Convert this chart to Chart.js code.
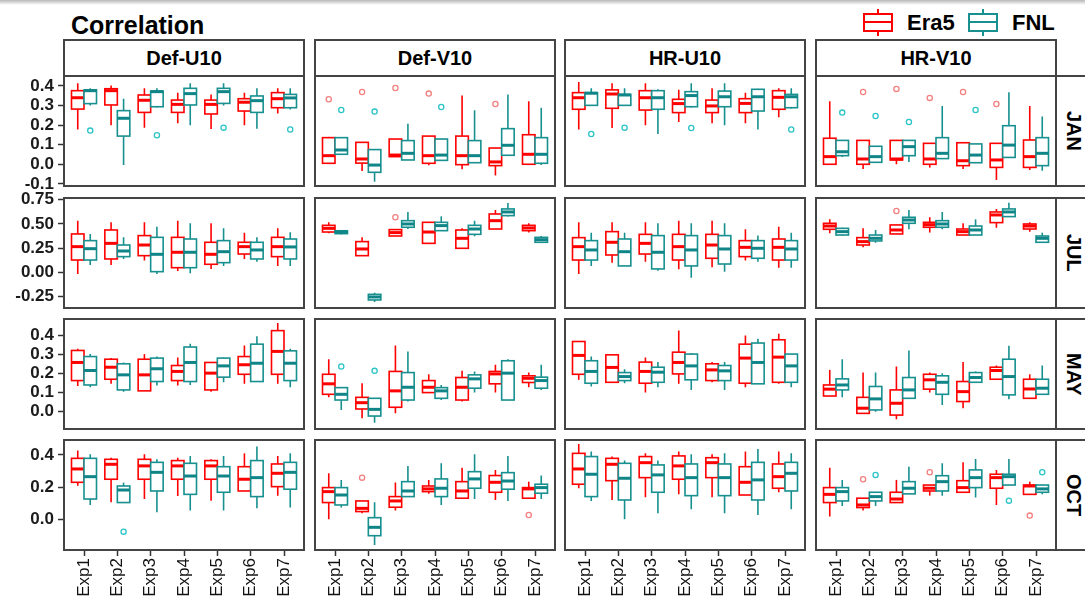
<!DOCTYPE html>
<html>
<head>
<meta charset="utf-8">
<title>Correlation</title>
<script src="https://cdn.jsdelivr.net/npm/chart.js@4.4.1/dist/chart.umd.min.js"></script>
<style>
  html, body { margin: 0; padding: 0; }
  body { width: 1085px; height: 599px; overflow: hidden; position: relative; background: #fff;
         font-family: Arial, "Liberation Sans", sans-serif; }
  .topline { position: absolute; left: 0; top: 0; width: 1085px; height: 5px; background: linear-gradient(#b8b8b8, #fff); }
  .title { position: absolute; left: 71px; top: 10px; font-size: 25px; line-height: 30px; font-weight: bold; color: #000; }
  .strip { position: absolute; box-sizing: border-box; border: 2px solid #444; background: #fff;
           font-weight: bold; font-size: 20px; color: #000; display: flex; align-items: center; justify-content: center; }
  .strip.side { justify-content: flex-start; padding-left: 5px; }
  .strip.side span { writing-mode: vertical-rl; }
  .key { position: absolute; top: 9px; width: 30px; height: 27px; }
  .key div { position: absolute; background: currentColor; }
  .key .bx { left: 0; top: 4px; width: 30px; height: 19px; box-sizing: border-box; border: 2px solid currentColor; background: #fff; }
  .key .md { left: 0; top: 12px; width: 30px; height: 2px; }
  .key .wt { left: 14px; top: 0; width: 2px; height: 4px; }
  .key .wb { left: 14px; top: 23px; width: 2px; height: 4px; }
  .keytext { position: absolute; top: 10px; font-size: 22px; line-height: 26px; font-weight: bold; color: #000; }
  canvas { position: absolute; }
</style>
</head>
<body>
<div class="topline"></div>
<div class="title">Correlation</div>
<script>
// categorias e rótulos
const expLabels = ['Exp1', 'Exp2', 'Exp3', 'Exp4', 'Exp5', 'Exp6', 'Exp7'];
const varLabels = ['Def-U10', 'Def-V10', 'HR-U10', 'HR-V10'];
const monthLabels = ['JAN', 'JUL', 'MAY', 'OCT'];
const seriesLabels = ['Era5', 'FNL'];

const yTicksJan = [-0.1, 0.0, 0.1, 0.2, 0.3, 0.4];
const yTicksJul = [-0.25, 0.0, 0.25, 0.5, 0.75];
const yTicksMay = [0.0, 0.1, 0.2, 0.3, 0.4];
const yTicksOct = [0.0, 0.2, 0.4];

// cada caixa: [min, q1, mediana, q3, max, ...outliers]
const janDefU10Era5 = [[0.178,0.282,0.34,0.376,0.414],[0.20,0.303,0.376,0.386,0.403],[0.187,0.265,0.327,0.354,0.388],[0.209,0.265,0.306,0.328,0.366],[0.18,0.257,0.306,0.328,0.357],[0.20,0.272,0.317,0.335,0.366],[0.26,0.289,0.335,0.366,0.388]];
const janDefU10Fnl = [[0.30,0.31,0.376,0.38,0.388,0.172],[-0.004,0.144,0.235,0.274,0.335],[0.29,0.294,0.371,0.374,0.388,0.148],[0.20,0.303,0.361,0.388,0.414],[0.30,0.311,0.371,0.388,0.414,0.187],[0.182,0.265,0.325,0.349,0.388],[0.28,0.289,0.339,0.357,0.388,0.178]];
const janDefV10Era5 = [[0.005,0.005,0.044,0.136,0.14,0.332],[-0.034,0.006,0.027,0.112,0.112,0.369],[0.039,0.039,0.047,0.129,0.129,0.39],[-0.005,0.005,0.044,0.144,0.144,0.361],[-0.026,-0.002,0.044,0.144,0.351],[-0.057,-0.007,0.012,0.083,0.083,0.308],[0.0,0.0,0.051,0.151,0.322]];
const janDefV10Fnl = [[0.051,0.051,0.073,0.136,0.136,0.277],[-0.089,-0.041,-0.004,0.075,0.075,0.269],[0.022,0.022,0.056,0.121,0.207],[0.02,0.02,0.047,0.129,0.129,0.293],[0.008,0.008,0.044,0.121,0.276],[0.046,0.046,0.097,0.182,0.357],[-0.004,0.005,0.051,0.136,0.289]];
const janHrU10Era5 = [[0.178,0.281,0.34,0.366,0.42],[0.185,0.286,0.359,0.38,0.414],[0.20,0.277,0.34,0.376,0.414],[0.216,0.264,0.31,0.332,0.381],[0.209,0.264,0.298,0.328,0.388],[0.209,0.264,0.311,0.335,0.366],[0.24,0.281,0.342,0.376,0.388]];
const janHrU10Fnl = [[0.30,0.301,0.363,0.366,0.388,0.155],[0.30,0.301,0.354,0.357,0.388,0.187],[0.155,0.281,0.34,0.376,0.383],[0.29,0.294,0.351,0.371,0.414,0.185],[0.20,0.294,0.345,0.374,0.414],[0.178,0.272,0.345,0.383,0.386],[0.285,0.289,0.345,0.357,0.388,0.178]];
const janHrV10Era5 = [[0.0,0.0,0.039,0.133,0.322],[-0.024,0.0,0.027,0.122,0.122,0.369],[0.0,0.022,0.027,0.122,0.122,0.385],[-0.017,0.0,0.027,0.107,0.107,0.339],[-0.024,-0.007,0.018,0.11,0.11,0.369],[-0.08,-0.016,0.022,0.107,0.107,0.308],[-0.029,-0.016,0.039,0.124,0.298]];
const janHrV10Fnl = [[0.037,0.044,0.064,0.122,0.122,0.264],[0.01,0.01,0.039,0.092,0.092,0.247],[0.012,0.044,0.09,0.122,0.122,0.216],[0.029,0.029,0.056,0.136,0.298],[0.008,0.008,0.047,0.104,0.104,0.277],[0.035,0.035,0.098,0.197,0.368],[-0.033,-0.007,0.056,0.136,0.244]];

const julDefU10Era5 = [[-0.016,0.128,0.266,0.397,0.534],[0.077,0.139,0.30,0.438,0.517],[0.122,0.173,0.283,0.38,0.517],[0.015,0.049,0.208,0.362,0.534],[0.036,0.084,0.187,0.311,0.507],[0.139,0.19,0.266,0.311,0.41],[0.067,0.163,0.266,0.362,0.455]];
const julDefU10Fnl = [[0.077,0.128,0.245,0.328,0.397],[0.139,0.163,0.221,0.283,0.362],[-0.016,0.008,0.187,0.362,0.472],[-0.009,0.049,0.208,0.345,0.507],[0.067,0.101,0.214,0.328,0.455],[0.111,0.139,0.232,0.311,0.362],[0.067,0.139,0.263,0.345,0.414]];
const julDefV10Era5 = [[0.404,0.417,0.455,0.486,0.517],[0.173,0.173,0.242,0.318,0.362],[0.376,0.376,0.411,0.442,0.442,0.569],[0.30,0.30,0.417,0.517,0.517],[0.249,0.249,0.352,0.438,0.455],[0.448,0.448,0.534,0.603,0.644],[0.411,0.431,0.459,0.486,0.507]];
const julDefV10Fnl = [[0.395,0.40,0.415,0.43,0.435],[-0.305,-0.284,-0.253,-0.226,-0.209],[0.448,0.466,0.50,0.534,0.624],[0.431,0.431,0.483,0.517,0.579],[0.373,0.393,0.448,0.486,0.534],[0.576,0.586,0.624,0.655,0.717],[0.311,0.311,0.338,0.362,0.376]];
const julHrU10Era5 = [[-0.016,0.128,0.266,0.359,0.517],[0.101,0.18,0.311,0.421,0.517],[0.111,0.19,0.30,0.393,0.517],[0.032,0.128,0.266,0.393,0.534],[0.053,0.146,0.283,0.393,0.534],[0.122,0.163,0.259,0.328,0.445],[0.049,0.128,0.259,0.345,0.472]];
const julHrU10Fnl = [[0.067,0.128,0.232,0.328,0.41],[0.067,0.067,0.214,0.345,0.41],[0.018,0.036,0.208,0.38,0.507],[-0.054,0.067,0.232,0.38,0.507],[0.008,0.087,0.242,0.38,0.507],[0.111,0.146,0.249,0.328,0.38],[0.049,0.128,0.242,0.328,0.41]];
const julHrV10Era5 = [[0.404,0.445,0.479,0.507,0.548],[0.259,0.283,0.318,0.359,0.455],[0.397,0.397,0.438,0.49,0.49,0.634],[0.411,0.466,0.493,0.517,0.569],[0.386,0.386,0.421,0.448,0.507],[0.462,0.514,0.593,0.624,0.655],[0.421,0.448,0.479,0.50,0.517]];
const julHrV10Fnl = [[0.38,0.386,0.421,0.455,0.46],[0.307,0.325,0.352,0.386,0.438],[0.445,0.507,0.541,0.569,0.644],[0.445,0.466,0.50,0.534,0.624],[0.386,0.386,0.438,0.479,0.548],[0.576,0.576,0.624,0.655,0.72],[0.311,0.311,0.352,0.376,0.41]];

const mayDefU10Era5 = [[0.135,0.163,0.258,0.321,0.33],[0.146,0.17,0.233,0.275,0.281],[0.109,0.109,0.193,0.275,0.302],[0.137,0.163,0.211,0.242,0.284],[0.105,0.114,0.202,0.258,0.26],[0.146,0.196,0.246,0.289,0.347],[0.146,0.196,0.316,0.425,0.465]];
const mayDefU10Fnl = [[0.128,0.14,0.216,0.289,0.302],[0.105,0.114,0.193,0.251,0.258],[0.137,0.158,0.225,0.281,0.289],[0.14,0.158,0.258,0.339,0.356],[0.154,0.181,0.24,0.281,0.284],[0.158,0.158,0.254,0.354,0.395],[0.128,0.163,0.254,0.319,0.33]];
const mayDefV10Era5 = [[0.075,0.091,0.146,0.196,0.275],[-0.035,0.014,0.047,0.075,0.149],[-0.009,0.023,0.109,0.211,0.347],[0.10,0.10,0.128,0.163,0.196],[0.053,0.061,0.128,0.179,0.214],[0.10,0.146,0.198,0.211,0.246],[0.128,0.153,0.175,0.188,0.205]];
const mayDefV10Fnl = [[0.009,0.061,0.091,0.126,0.126,0.237],[-0.058,-0.023,0.012,0.07,0.07,0.214],[0.053,0.061,0.128,0.205,0.316],[0.061,0.07,0.109,0.126,0.14],[0.10,0.123,0.172,0.193,0.211],[0.061,0.061,0.202,0.267,0.275],[0.114,0.123,0.163,0.181,0.246]];
const mayHrU10Era5 = [[0.167,0.196,0.295,0.368,0.368],[0.154,0.154,0.232,0.298,0.302],[0.10,0.149,0.211,0.26,0.284],[0.146,0.198,0.258,0.312,0.426],[0.154,0.163,0.219,0.251,0.26],[0.128,0.149,0.281,0.354,0.40],[0.146,0.154,0.286,0.377,0.409]];
const mayHrU10Fnl = [[0.132,0.149,0.211,0.267,0.289],[0.149,0.163,0.184,0.205,0.223],[0.128,0.154,0.207,0.233,0.26],[0.114,0.167,0.24,0.302,0.307],[0.114,0.163,0.214,0.242,0.26],[0.146,0.146,0.258,0.36,0.382],[0.128,0.154,0.24,0.302,0.302]];
const mayHrV10Era5 = [[0.082,0.082,0.118,0.14,0.219],[-0.009,-0.009,0.018,0.075,0.205],[-0.04,-0.018,0.044,0.114,0.237],[0.10,0.118,0.167,0.196,0.205],[0.018,0.053,0.105,0.158,0.26],[0.17,0.17,0.216,0.233,0.242],[0.07,0.07,0.119,0.17,0.196]];
const mayHrV10Fnl = [[0.075,0.114,0.14,0.172,0.275],[0.0,0.009,0.067,0.132,0.205],[0.07,0.07,0.114,0.179,0.321],[0.035,0.091,0.154,0.188,0.202],[0.154,0.154,0.179,0.205,0.211],[0.065,0.088,0.184,0.275,0.346],[0.091,0.091,0.123,0.17,0.242]];

const octDefU10Era5 = [[0.209,0.23,0.313,0.379,0.427],[0.106,0.249,0.342,0.373,0.383],[0.126,0.249,0.332,0.373,0.404],[0.145,0.249,0.332,0.365,0.383],[0.116,0.249,0.332,0.365,0.373],[0.176,0.176,0.249,0.327,0.41],[0.147,0.203,0.286,0.344,0.394]];
const octDefU10Fnl = [[0.089,0.126,0.265,0.379,0.404],[0.104,0.104,0.182,0.207,0.228,-0.077],[0.044,0.176,0.292,0.354,0.373],[0.054,0.155,0.269,0.348,0.394],[0.054,0.168,0.269,0.327,0.394],[0.068,0.141,0.259,0.365,0.452],[0.073,0.187,0.292,0.354,0.41]];
const octDefV10Era5 = [[0.0,0.104,0.172,0.197,0.286],[0.037,0.048,0.068,0.114,0.114,0.259],[0.054,0.075,0.114,0.141,0.228],[0.158,0.172,0.189,0.207,0.245],[0.131,0.131,0.176,0.234,0.321],[0.12,0.168,0.23,0.272,0.307],[0.131,0.131,0.189,0.197,0.234,0.027]];
const octDefV10Fnl = [[0.073,0.089,0.151,0.197,0.245],[-0.16,-0.102,-0.05,0.01,0.106],[0.141,0.141,0.176,0.234,0.332],[0.089,0.141,0.193,0.251,0.348],[0.126,0.193,0.251,0.296,0.404],[0.114,0.187,0.238,0.29,0.394],[0.126,0.162,0.197,0.218,0.272]];
const octHrU10Era5 = [[0.193,0.218,0.313,0.41,0.468],[0.12,0.24,0.342,0.379,0.39],[0.137,0.259,0.352,0.39,0.41],[0.155,0.249,0.332,0.394,0.421],[0.137,0.259,0.352,0.383,0.404],[0.151,0.151,0.23,0.327,0.421],[0.168,0.193,0.265,0.344,0.421]];
const octHrU10Fnl = [[0.114,0.141,0.28,0.39,0.421],[0.0,0.12,0.255,0.348,0.365],[0.037,0.168,0.276,0.338,0.365],[0.062,0.147,0.259,0.344,0.404],[0.037,0.147,0.259,0.344,0.41],[0.027,0.12,0.245,0.354,0.437],[0.062,0.176,0.286,0.354,0.41]];
const octHrV10Era5 = [[0.017,0.104,0.155,0.197,0.321],[0.054,0.073,0.089,0.131,0.131,0.249],[0.104,0.104,0.126,0.168,0.245],[0.147,0.176,0.193,0.213,0.213,0.292],[0.168,0.168,0.197,0.24,0.354],[0.089,0.193,0.259,0.28,0.307],[0.155,0.155,0.207,0.213,0.234,0.023]];
const octHrV10Fnl = [[0.083,0.114,0.172,0.197,0.245],[0.083,0.114,0.141,0.168,0.168,0.276],[0.158,0.158,0.193,0.234,0.327],[0.147,0.176,0.234,0.271,0.348],[0.135,0.197,0.259,0.307,0.375],[0.213,0.213,0.265,0.28,0.375,0.116],[0.155,0.168,0.189,0.213,0.213,0.292]];

// linhas = meses, colunas = variáveis
const panelData = [
    [[janDefU10Era5, janDefU10Fnl], [janDefV10Era5, janDefV10Fnl], [janHrU10Era5, janHrU10Fnl], [janHrV10Era5, janHrV10Fnl]],
    [[julDefU10Era5, julDefU10Fnl], [julDefV10Era5, julDefV10Fnl], [julHrU10Era5, julHrU10Fnl], [julHrV10Era5, julHrV10Fnl]],
    [[mayDefU10Era5, mayDefU10Fnl], [mayDefV10Era5, mayDefV10Fnl], [mayHrU10Era5, mayHrU10Fnl], [mayHrV10Era5, mayHrV10Fnl]],
    [[octDefU10Era5, octDefU10Fnl], [octDefV10Era5, octDefV10Fnl], [octHrU10Era5, octHrU10Fnl], [octHrV10Era5, octHrV10Fnl]]
];
const rowTicks = [yTicksJan, yTicksJul, yTicksMay, yTicksOct];
const rowDecimals = [1, 2, 1, 1];
const rowRange = [[-0.111, 0.451], [-0.367, 0.768], [-0.091, 0.486], [-0.191, 0.493]];

// layout
const colLeft = [64, 315, 565, 816];
const rowTop = [76, 198, 319, 440];
const panelW = 240, panelH = 110;
const yAxisW = 64, xAxisH = 49;
const pad = 16;

const seriesColors = ['#ff0000', '#17908f'];
const medianColors = ['#ff0000', '#0f8587'];
const outlierColors = ['#f38080', '#2cc4c7'];
const dodge = [-0.1875, 0.1875];
const boxWidth = 0.375;
const borderColor = '#444';
const fontFamily = 'Arial, "Liberation Sans", sans-serif';

Chart.defaults.font.family = fontFamily;

// strips e legenda
varLabels.forEach((name, c) => {
    const d = document.createElement('div');
    d.className = 'strip';
    d.style.left = (colLeft[c] - 1) + 'px';
    d.style.top = '39px';
    d.style.width = (panelW + 2) + 'px';
    d.style.height = '38px';
    d.textContent = name;
    document.body.appendChild(d);
});
monthLabels.forEach((name, r) => {
    const d = document.createElement('div');
    d.className = 'strip side';
    d.style.left = (colLeft[3] + panelW - 1) + 'px';
    d.style.top = (rowTop[r] - 1) + 'px';
    d.style.width = '40px';
    d.style.height = (panelH + 2) + 'px';
    d.innerHTML = '<span>' + name + '</span>';
    document.body.appendChild(d);
});
const legendX = [863, 968];
const legendTextX = [907, 1012];
seriesLabels.forEach((name, s) => {
    const key = document.createElement('div');
    key.className = 'key';
    key.style.left = legendX[s] + 'px';
    key.style.color = seriesColors[s];
    key.innerHTML = '<div class="wt"></div><div class="wb"></div><div class="bx"></div><div class="md"></div>';
    document.body.appendChild(key);
    const t = document.createElement('div');
    t.className = 'keytext';
    t.style.left = legendTextX[s] + 'px';
    t.textContent = name;
    document.body.appendChild(t);
});

function boxPlugin(boxes) {
    return {
        id: 'boxes',
        beforeDatasetsDraw(chart) {
            const { ctx, chartArea: a, scales: { x, y } } = chart;
            const half = Math.abs(x.getPixelForValue(1 + boxWidth / 2) - x.getPixelForValue(1));
            ctx.save();
            ctx.beginPath();
            ctx.rect(a.left, a.top, a.right - a.left, a.bottom - a.top);
            ctx.clip();
            boxes.forEach((rows, s) => {
                rows.forEach((b, i) => {
                    const xc = x.getPixelForValue(i + 1 + dodge[s]);
                    const lo = y.getPixelForValue(b[0]);
                    const q1 = y.getPixelForValue(b[1]);
                    const md = y.getPixelForValue(b[2]);
                    const q3 = y.getPixelForValue(b[3]);
                    const hi = y.getPixelForValue(b[4]);
                    ctx.strokeStyle = seriesColors[s];
                    ctx.lineWidth = 1.6;
                    ctx.beginPath();
                    ctx.moveTo(xc, q3); ctx.lineTo(xc, hi);
                    ctx.moveTo(xc, q1); ctx.lineTo(xc, lo);
                    ctx.stroke();
                    ctx.fillStyle = '#fff';
                    ctx.fillRect(xc - half, q3, half * 2, q1 - q3);
                    ctx.strokeRect(xc - half, q3, half * 2, q1 - q3);
                    ctx.strokeStyle = medianColors[s];
                    ctx.lineWidth = 3;
                    ctx.beginPath();
                    ctx.moveTo(xc - half, md); ctx.lineTo(xc + half, md);
                    ctx.stroke();
                });
            });
            ctx.restore();
        },
        afterDraw(chart) {
            const { ctx, chartArea: a } = chart;
            ctx.save();
            ctx.strokeStyle = borderColor;
            ctx.lineWidth = 2;
            ctx.strokeRect(a.left, a.top, a.right - a.left, a.bottom - a.top);
            ctx.restore();
        }
    };
}

function criarPainel(r, c) {
    const first = c === 0;
    const last = r === monthLabels.length - 1;
    const padding = { top: pad, right: pad, bottom: last ? 0 : pad, left: first ? 0 : pad };
    const axisW = first ? yAxisW : 0;
    const axisH = last ? xAxisH : 0;
    const w = panelW + axisW + padding.left + padding.right;
    const h = panelH + axisH + padding.top + padding.bottom;

    const canvas = document.createElement('canvas');
    canvas.width = w;
    canvas.height = h;
    canvas.style.width = w + 'px';
    canvas.style.height = h + 'px';
    canvas.style.left = (colLeft[c] - axisW - padding.left) + 'px';
    canvas.style.top = (rowTop[r] - padding.top) + 'px';
    document.body.appendChild(canvas);

    const boxes = panelData[r][c];

    new Chart(canvas, {
        type: 'scatter',
        data: {
            datasets: boxes.map((rows, s) => ({
                label: seriesLabels[s],
                data: rows.flatMap((b, i) => b.slice(5).map(v => ({ x: i + 1 + dodge[s], y: v }))),
                pointRadius: 2.6,
                pointBorderWidth: 1.3,
                pointBorderColor: outlierColors[s],
                pointBackgroundColor: 'rgba(0,0,0,0)',
                showLine: false
            }))
        },
        options: {
            responsive: false,
            animation: false,
            events: [],
            layout: { padding: padding },
            plugins: { legend: { display: false }, tooltip: { enabled: false } },
            scales: {
                x: {
                    type: 'linear',
                    display: last,
                    min: 0.4,
                    max: 7.6,
                    afterBuildTicks: s => { s.ticks = expLabels.map((_, i) => ({ value: i + 1 })); },
                    afterFit: s => { s.height = axisH; },
                    border: { display: false },
                    grid: { drawOnChartArea: false, drawTicks: true, tickLength: 6, tickColor: '#333', tickWidth: 1.5 },
                    ticks: {
                        autoSkip: false,
                        minRotation: 90,
                        maxRotation: 90,
                        padding: 2,
                        color: '#111',
                        font: { size: 17, family: fontFamily },
                        callback: v => expLabels[Math.round(v) - 1] || ''
                    }
                },
                y: {
                    type: 'linear',
                    display: first,
                    min: rowRange[r][0],
                    max: rowRange[r][1],
                    afterBuildTicks: s => { s.ticks = rowTicks[r].map(v => ({ value: v })); },
                    afterFit: s => { s.width = axisW; },
                    border: { display: false },
                    grid: { drawOnChartArea: false, drawTicks: true, tickLength: 6, tickColor: '#333', tickWidth: 1.5 },
                    ticks: {
                        autoSkip: false,
                        padding: 4,
                        color: '#1b1b1b',
                        font: { size: 17, weight: 'bold', family: fontFamily },
                        callback: v => v.toFixed(rowDecimals[r])
                    }
                }
            }
        },
        plugins: [boxPlugin(boxes)]
    });
}

monthLabels.forEach((m, r) => varLabels.forEach((v, c) => criarPainel(r, c)));
</script>
</body>
</html>
